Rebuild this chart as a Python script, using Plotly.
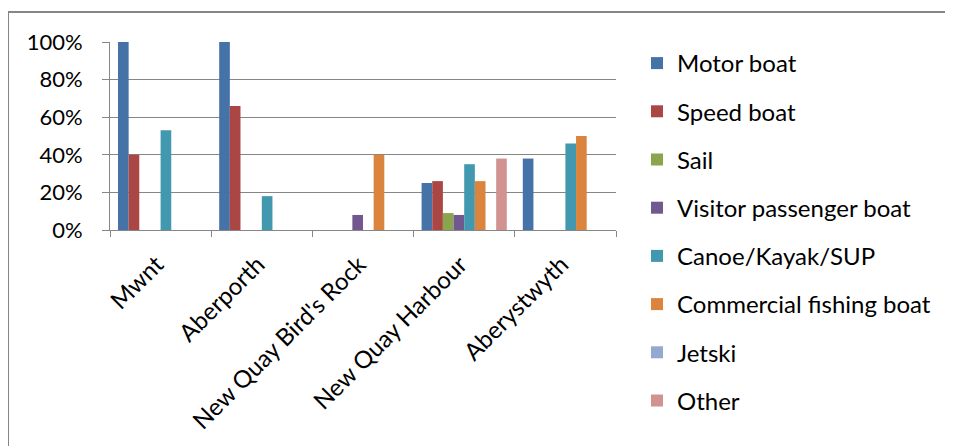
import plotly.graph_objects as go

categories = ["Mwnt", "Aberporth", "New Quay Bird's Rock", "New Quay Harbour", "Aberystwyth"]
series_names = ["Motor boat", "Speed boat", "Sail", "Visitor passenger boat",
                "Canoe/Kayak/SUP", "Commercial fishing boat", "Jetski", "Other"]
motor_boat = [1.00, 1.00, 0.00, 0.25, 0.38]
speed_boat = [0.40, 0.66, 0.00, 0.26, 0.00]
sail = [0.00, 0.00, 0.00, 0.09, 0.00]
visitor_passenger_boat = [0.00, 0.00, 0.08, 0.08, 0.00]
canoe_kayak_sup = [0.53, 0.18, 0.00, 0.35, 0.46]
commercial_fishing_boat = [0.00, 0.00, 0.40, 0.26, 0.50]
jetski = [0.00, 0.00, 0.00, 0.00, 0.00]
other = [0.00, 0.00, 0.00, 0.38, 0.00]
y_ticks = [0, 0.2, 0.4, 0.6, 0.8, 1.0]
y_tick_labels = ["0%", "20%", "40%", "60%", "80%", "100%"]

colors = ["#4572A7", "#AA4643", "#89A54E", "#71588F", "#4198AF", "#DB843D", "#93A9CF", "#D19392"]
all_series = [motor_boat, speed_boat, sail, visitor_passenger_boat,
              canoe_kayak_sup, commercial_fishing_boat, jetski, other]

FONT = "Lato"
fig = go.Figure()
for i, (name, vals) in enumerate(zip(series_names, all_series)):
    fig.add_trace(go.Bar(
        x=categories, y=vals, name=name,
        marker=dict(color=colors[i], line=dict(width=0)),
        legendgroup=f"g{i}",
    ))

# page body has an 8px margin, so the figure is offset by 8px
OFF = 8
W, H = 953 - OFF, 446 - OFF
plot_left, plot_right, plot_top, plot_bottom = 110 - OFF, 616 - OFF, 42 - OFF, 230 - OFF
L, R, T, B = plot_left, W - plot_right, plot_top, H - plot_bottom
pw, ph = plot_right - plot_left, plot_bottom - plot_top

def px_x(px):
    return (px - OFF - L) / pw

def px_y(py):
    return (plot_bottom - (py - OFF)) / ph

fig.update_layout(
    width=W, height=H,
    margin=dict(l=L, r=R, t=T, b=B, pad=0, autoexpand=False),
    paper_bgcolor="white", plot_bgcolor="white",
    barmode="group", bargap=1.5 / 9.5, bargroupgap=0,
    font=dict(family=FONT, size=22, color="black"),
    showlegend=True,
    legend=dict(
        x=px_x(637), xanchor="left",
        yref="container", y=1 - (41 - OFF) / H, yanchor="top",
        maxheight=425,
        font=dict(family=FONT, size=24, color="black"),
        tracegroupgap=14, bgcolor="rgba(0,0,0,0)",
    ),
    xaxis=dict(
        type="category", showgrid=False, showline=True, linecolor="#868686", linewidth=1,
        ticks="outside", tickson="boundaries", ticklen=6, tickcolor="#868686",
        tickangle=-45, tickfont=dict(family=FONT, size=24, color="black"),
        ticklabelstandoff=10, ticklabelshift=-4,
    ),
    yaxis=dict(
        range=[0, 1], tickvals=y_ticks, ticktext=y_tick_labels,
        showgrid=True, gridcolor="#868686", gridwidth=1,
        showline=True, linecolor="#868686", linewidth=1,
        ticks="outside", ticklen=7, tickcolor="#868686",
        ticklabelstandoff=15,
        tickfont=dict(family=FONT, size=22, color="black"),
        zeroline=False,
    ),
    shapes=[dict(
        type="rect", xref="paper", yref="paper",
        x0=px_x(8), x1=px_x(1000), y0=px_y(12), y1=px_y(500),
        line=dict(color="#868686", width=2), fillcolor="rgba(0,0,0,0)", layer="below",
    )],
)

fig.write_html("out.html")
